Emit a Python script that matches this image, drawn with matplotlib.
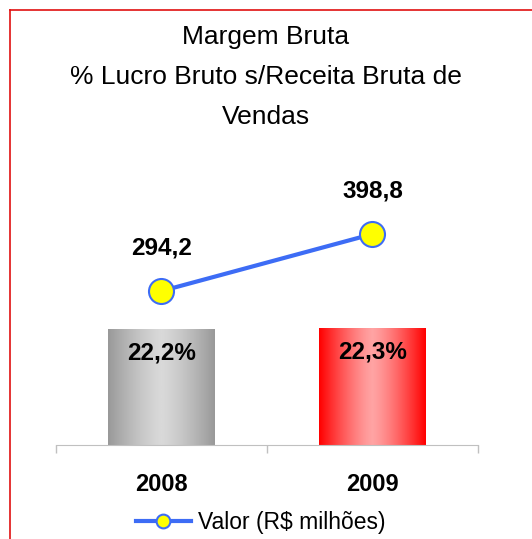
import numpy as np
import matplotlib
matplotlib.use("Agg")
import matplotlib.pyplot as plt
from matplotlib.colors import LinearSegmentedColormap
from matplotlib.lines import Line2D

plt.rcParams['font.family'] = ['Liberation Sans', 'DejaVu Sans']

# data
years = ['2008', '2009']
margem = [22.2, 22.3]            # % lucro bruto s/ receita bruta
valor = [294.2, 398.8]           # R$ milhoes
margem_labels = ['22,2%', '22,3%']
valor_labels = ['294,2', '398,8']
title = 'Margem Bruta\n% Lucro Bruto s/Receita Bruta de\nVendas'
legend_label = 'Valor (R$ milhões)'

fig = plt.figure(figsize=(5.32, 5.39), dpi=100)
fig.patch.set_facecolor('white')

# red frame (only left and top visible in the crop)
fig.add_artist(Line2D([9.5/532, 9.5/532], [0, 1 - 9.5/539], transform=fig.transFigure,
                      color='#e01010', lw=1.2))
fig.add_artist(Line2D([9.5/532, 1], [1 - 9.5/539, 1 - 9.5/539], transform=fig.transFigure,
                      color='#e01010', lw=1.2))

fig.text(0.5, 1 - 77/539, title, ha='center', va='center', fontsize=19,
         linespacing=1.82)

ax = fig.add_axes([56/532, 94/539, 422/532, 265/539])
x = np.arange(len(years))
bw = 0.505
bars = ax.bar(x, margem, width=bw, color='none', zorder=2)

# horizontal gradients (dark edges, light centre)
grad = np.abs(np.linspace(-1, 1, 256))[None, :]
cmaps = [LinearSegmentedColormap.from_list('g', ['#d9d9d9', '#999999']),
         LinearSegmentedColormap.from_list('r', ['#ffa3a3', '#ff0000'])]
for b, cm in zip(bars, cmaps):
    bx, by = b.get_x(), b.get_y()
    im = ax.imshow(grad ** 1.3, cmap=cm, aspect='auto', zorder=1,
                   extent=[bx, bx + b.get_width(), by, by + b.get_height()])
    im.set_clip_path(b)
ax.set_xlim(-0.5, 1.5)
ax.set_ylim(0, 50.7)

for xi, v, lab in zip(x, margem, margem_labels):
    ax.annotate(lab, (xi, v), xytext=(0, -17), textcoords='offset points',
                ha='center', va='center', fontsize=17.5, fontweight='bold')

for s in ['top', 'right', 'left']:
    ax.spines[s].set_visible(False)
ax.spines['bottom'].set_color('#c0c0c0')
ax.set_yticks([])
ax.set_xticks(x)
ax.set_xticklabels(years, fontsize=17, fontweight='bold')
ax.tick_params(axis='x', which='major', length=0, pad=20)
ax.set_xticks([-0.5, 0.5, 1.5], minor=True)
ax.tick_params(axis='x', which='minor', length=6, color='#c0c0c0', width=1)

ax2 = ax.twinx()
ax2.set_ylim(11.6, 498)
ax2.plot(x, valor, color='#3d6cf5', lw=3, marker='o', markersize=18,
         markerfacecolor='#ffff00', markeredgecolor='#3d6cf5', markeredgewidth=1.5,
         label=legend_label, zorder=3)
for xi, v, lab in zip(x, valor, valor_labels):
    ax2.annotate(lab, (xi, v), xytext=(0, 31), textcoords='offset points',
                 ha='center', va='center', fontsize=17.5, fontweight='bold')
ax2.axis('off')

leg = fig.legend(loc='center', bbox_to_anchor=(0.49, 1 - 523/539), frameon=False,
                 fontsize=16.5, handlelength=2.4, handletextpad=0.3, markerscale=0.55)

fig.savefig('out.png', dpi=100, facecolor='white')
